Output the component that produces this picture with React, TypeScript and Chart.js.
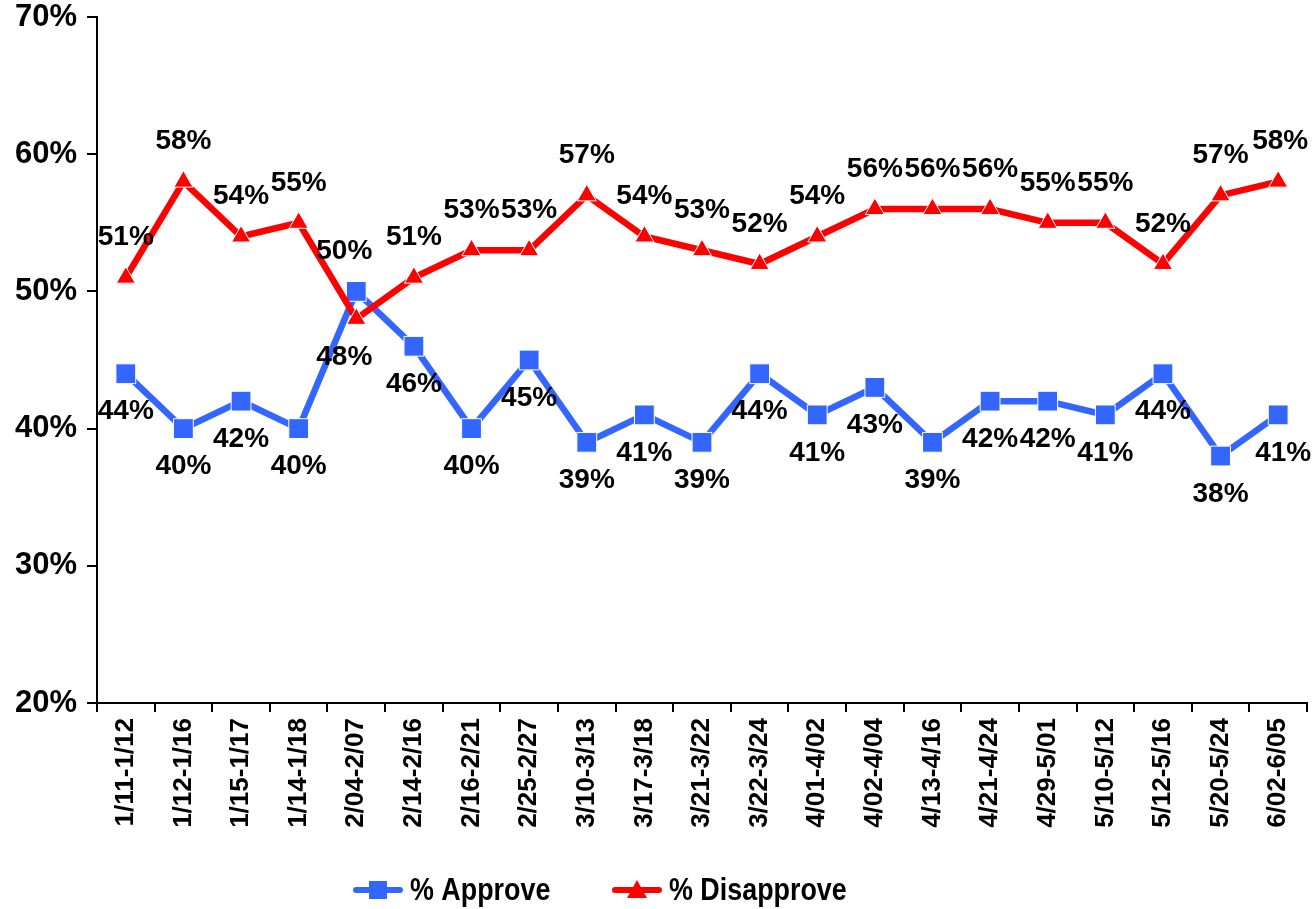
import React, { useEffect, useRef } from "react";
import { Chart, registerables } from "chart.js";

Chart.register(...registerables);

const categories = [
  "1/11-1/12", "1/12-1/16", "1/15-1/17", "1/14-1/18", "2/04-2/07", "2/14-2/16",
  "2/16-2/21", "2/25-2/27", "3/10-3/13", "3/17-3/18", "3/21-3/22", "3/22-3/24",
  "4/01-4/02", "4/02-4/04", "4/13-4/16", "4/21-4/24", "4/29-5/01", "5/10-5/12",
  "5/12-5/16", "5/20-5/24", "6/02-6/05",
];
const approve = [44, 40, 42, 40, 50, 46, 40, 45, 39, 41, 39, 44, 41, 43, 39, 42, 42, 41, 44, 38, 41];
const disapprove = [51, 58, 54, 55, 48, 51, 53, 53, 57, 54, 53, 52, 54, 56, 56, 56, 55, 55, 52, 57, 58];
const yTicks = [20, 30, 40, 50, 60, 70];

const BLUE = "#3366FF";
const RED = "#FF0000";
const FONT = "'Liberation Sans', Arial, sans-serif";
const CANVAS_W = 1322;

const labelsPlugin = {
  id: "pointLabels",
  afterDatasetsDraw(chart: any) {
    const ctx = chart.ctx;
    ctx.save();
    ctx.font = `bold 28px ${FONT}`;
    ctx.fillStyle = "#000";
    ctx.textAlign = "center";
    ctx.textBaseline = "middle";
    chart.data.datasets.forEach((ds: any, di: number) => {
      const meta = chart.getDatasetMeta(di);
      meta.data.forEach((pt: any, i: number) => {
        const v = ds.data[i];
        const isApprove = ds.label === "% Approve";
        let above = !isApprove;
        let dx = 0;
        if (i === 4) {
          above = !above;
          dx = -12;
        }
        if (i === meta.data.length - 1) dx = isApprove ? 5 : 2;
        const dy = above ? -40 : 38;
        ctx.fillText(v + "%", pt.x + dx, pt.y + dy);
      });
    });
    ctx.restore();
  },
};

const legendPlugin = {
  id: "customLegend",
  afterDraw(chart: any) {
    const ctx = chart.ctx;
    const y = 890;
    const items = [
      { label: "% Approve", color: BLUE, style: "rect", x0: 353 },
      { label: "% Disapprove", color: RED, style: "triangle", x0: 612 },
    ];
    ctx.save();
    items.forEach((it) => {
      ctx.strokeStyle = it.color;
      ctx.lineWidth = 6;
      ctx.lineCap = "round";
      ctx.beginPath();
      ctx.moveTo(it.x0 + 3, y);
      ctx.lineTo(it.x0 + 47, y);
      ctx.stroke();
      ctx.fillStyle = it.color;
      const cx = it.x0 + 25;
      if (it.style === "rect") {
        ctx.fillRect(cx - 9, y - 9, 18, 18);
      } else {
        ctx.beginPath();
        ctx.moveTo(cx, y - 10);
        ctx.lineTo(cx + 10, y + 8);
        ctx.lineTo(cx - 10, y + 8);
        ctx.closePath();
        ctx.fill();
      }
      ctx.save();
      ctx.translate(it.x0 + 57, y);
      ctx.scale(0.84, 1);
      ctx.font = `bold 32px ${FONT}`;
      ctx.fillStyle = "#000";
      ctx.textAlign = "left";
      ctx.textBaseline = "middle";
      ctx.fillText(it.label, 0, 1);
      ctx.restore();
    });
    ctx.restore();
  },
};

export default function App() {
  const ref = useRef<HTMLCanvasElement>(null);
  useEffect(() => {
    if (!ref.current) return;
    const chart = new Chart(ref.current, {
      type: "line",
      data: {
        labels: categories,
        datasets: [
          {
            label: "% Approve",
            data: approve,
            borderColor: BLUE,
            backgroundColor: BLUE,
            borderWidth: 6.5,
            pointStyle: "rect",
            pointRadius: 14,
            pointBackgroundColor: BLUE,
            pointBorderColor: "#FFFFFF",
            pointBorderWidth: 1,
            tension: 0,
            order: 1,
          },
          {
            label: "% Disapprove",
            data: disapprove,
            borderColor: RED,
            backgroundColor: RED,
            borderWidth: 6.5,
            pointStyle: "triangle",
            pointRadius: 11,
            pointBackgroundColor: RED,
            pointBorderColor: "#FFFFFF",
            pointBorderWidth: 1,
            tension: 0,
            order: 0,
          },
        ],
      },
      options: {
        animation: false,
        responsive: false,
        maintainAspectRatio: false,
        layout: { padding: { left: 0, right: 0, top: 17, bottom: 0 } },
        plugins: {
          legend: { display: false },
          tooltip: { enabled: false },
        },
        scales: {
          x: {
            type: "category",
            offset: true,
            afterFit: (s: any) => {
              s.height = 206;
              s.paddingLeft = 0;
              s.paddingRight = 0;
            },
            grid: {
              offset: true,
              drawOnChartArea: false,
              drawTicks: true,
              tickLength: 9,
              color: "#000",
              lineWidth: 2,
            },
            border: { display: true, color: "#000", width: 2 },
            ticks: {
              autoSkip: false,
              minRotation: 90,
              maxRotation: 90,
              padding: 6,
              color: "#000",
              font: { family: FONT, size: 26, weight: "bold" },
            },
          },
          y: {
            min: 20,
            max: 70,
            afterFit: (s: any) => {
              s.width = 97;
              s.paddingTop = 0;
              s.paddingBottom = 0;
            },
            afterBuildTicks: (s: any) => {
              s.ticks = yTicks.map((v) => ({ value: v }));
            },
            grid: {
              drawOnChartArea: false,
              drawTicks: true,
              tickLength: 10,
              color: "#000",
              lineWidth: 2,
            },
            border: { display: true, color: "#000", width: 2 },
            ticks: {
              padding: 10,
              color: "#000",
              font: { family: FONT, size: 31, weight: "bold" },
              callback: (v: any) => v + "%",
            },
          },
        },
      },
      plugins: [labelsPlugin, legendPlugin],
    });
    return () => chart.destroy();
  }, []);
  return (
    <div
      style={{
        position: "absolute",
        left: 0,
        top: 0,
        width: 1313,
        height: 909,
        overflow: "hidden",
        background: "#fff",
      }}
    >
      <canvas
        ref={ref}
        width={CANVAS_W}
        height={909}
        style={{ display: "block", width: CANVAS_W, height: 909 }}
      />
    </div>
  );
}
